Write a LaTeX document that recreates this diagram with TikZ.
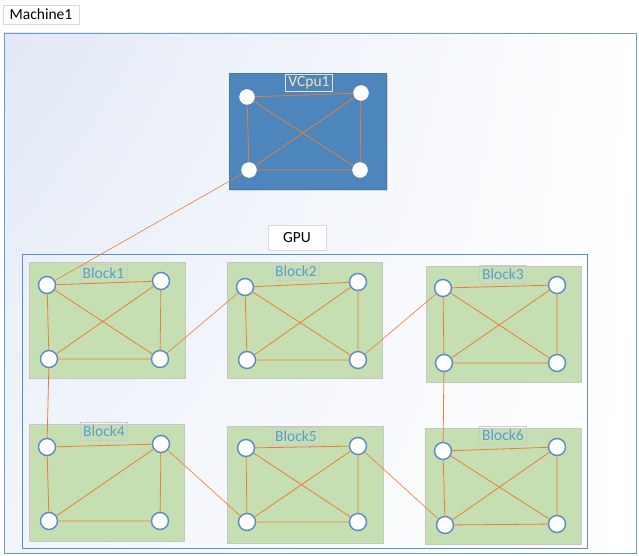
\documentclass[tikz,border=0pt]{standalone}
\usepackage{fontspec}
\setmainfont{Carlito}
\usetikzlibrary{shadings}
\begin{document}
\begin{tikzpicture}[x=1pt,y=-1pt,
  edge/.style={draw=edgeor, line width=0.8pt},
  link/.style={draw=edgeor, line width=0.6pt},
  blockbox/.style={draw=gray!45, fill=blockgreen, line width=0.8pt},
  blab/.style={draw=gray!40, line width=0.6pt, text=labblue, font=\fontsize{15.5}{17}\selectfont, inner sep=1pt, minimum width=47pt, minimum height=18pt},
  bnode/.style={circle, fill=white, draw=circblue, line width=1.4pt, minimum size=17pt, inner sep=0pt},
  vnode/.style={circle, fill=white, draw=white, minimum size=15pt, inner sep=0pt},
  tagbox/.style={draw=gray!30, fill=white, line width=0.8pt, font=\fontsize{15.5}{17}\selectfont, inner sep=1pt}
]
\definecolor{edgeor}{HTML}{ED7D31}
\definecolor{blockgreen}{HTML}{C5DFB2}
\definecolor{labblue}{HTML}{5B9BD5}
\definecolor{circblue}{HTML}{5A8AC6}
\definecolor{vcpublue}{HTML}{4D85BD}
\definecolor{framblue}{HTML}{6C9BD2}
\definecolor{gpublue}{HTML}{5B8FCB}
\definecolor{vlab}{HTML}{F7E4B0}
\definecolor{bgblue}{HTML}{E2E9F6}

\useasboundingbox (0,0) rectangle (639,556);
\fill[white] (0,0) rectangle (639,556);

% Machine frame
\shade[upper left=bgblue, upper right=white, lower left=bgblue!45, lower right=white] (4,33) rectangle (636,553);
\draw[framblue, line width=0.8pt] (4,33) rectangle (636,553);
\node[tagbox, minimum width=76pt, minimum height=19pt] (machlab) at (41,14.5) {Machine1};

% VCpu
\fill[black!15] (231,75) rectangle (388,191);
\filldraw[fill=vcpublue, draw=vcpublue!90!black, line width=0.5pt] (229,73) rectangle (386,189);
\node[draw=white!80!gray, line width=0.6pt, text=vlab, font=\fontsize{15.5}{17}\selectfont, inner sep=1pt, minimum width=47pt, minimum height=17pt] (vlabel) at (309,83) {VCpu1};
\node[vnode] (v1) at (247,97) {};
\node[vnode] (v2) at (361,93) {};
\node[vnode] (v3) at (249,170) {};
\node[vnode] (v4) at (360,170) {};
\draw[edge] (v1)--(v2) (v1)--(v3) (v1)--(v4) (v2)--(v3) (v2)--(v4) (v3)--(v4);

% GPU
\draw[gpublue, line width=0.8pt] (22,254) rectangle (587,548);
\node[tagbox, minimum width=58pt, minimum height=25pt] (gpulab) at (297,237.5) {GPU};

% Blocks
\draw[blockbox] (29,262) rectangle (185,378);
\draw[blockbox] (227,262) rectangle (382,378);
\draw[blockbox] (426,266) rectangle (581,382);
\draw[blockbox] (29,424) rectangle (184,541);
\draw[blockbox] (227,426) rectangle (383,543);
\draw[blockbox] (425,428) rectangle (581,544);

\node[blab] (lb1) at (103.5,273.5) {Block1};
\node[blab] (lb2) at (296,271.5) {Block2};
\node[blab] (lb3) at (503,274.5) {Block3};
\node[blab] (lb4) at (104,431.5) {Block4};
\node[blab] (lb5) at (296,436) {Block5};
\node[blab] (lb6) at (503,435) {Block6};

% Block nodes
\node[bnode] (a1) at (47,285) {};
\node[bnode] (a2) at (161,281) {};
\node[bnode] (a3) at (49,359) {};
\node[bnode] (a4) at (160,359) {};

\node[bnode] (b1) at (245,287) {};
\node[bnode] (b2) at (358,282) {};
\node[bnode] (b3) at (247,360) {};
\node[bnode] (b4) at (358,360) {};

\node[bnode] (c1) at (443,288) {};
\node[bnode] (c2) at (557,285) {};
\node[bnode] (c3) at (444,363) {};
\node[bnode] (c4) at (557,363) {};

\node[bnode] (d1) at (47,447) {};
\node[bnode] (d2) at (161,444) {};
\node[bnode] (d3) at (49,521) {};
\node[bnode] (d4) at (160,521) {};

\node[bnode] (e1) at (246,448) {};
\node[bnode] (e2) at (358,446) {};
\node[bnode] (e3) at (247,522) {};
\node[bnode] (e4) at (358,522) {};

\node[bnode] (f1) at (443,451) {};
\node[bnode] (f2) at (557,447) {};
\node[bnode] (f3) at (445,525) {};
\node[bnode] (f4) at (557,524) {};

% Intra-block edges
\foreach \p in {a,b,c,e,f}{
  \draw[edge] (\p1)--(\p2) (\p1)--(\p3) (\p1)--(\p4) (\p2)--(\p3) (\p2)--(\p4) (\p3)--(\p4);
}
\draw[edge] (d1)--(d2) (d1)--(d3) (d2)--(d3) (d2)--(d4) (d3)--(d4);

% Inter-block edges
\draw[link] (v3)--(a1);
\draw[link] (a4)--(b1);
\draw[link] (b4)--(c1);
\draw[edge] (a3)--(d1);
\draw[edge] (c3)--(f1);
\draw[link] (d2)--(e3);
\draw[link] (e2)--(f3);
\end{tikzpicture}
\end{document}
